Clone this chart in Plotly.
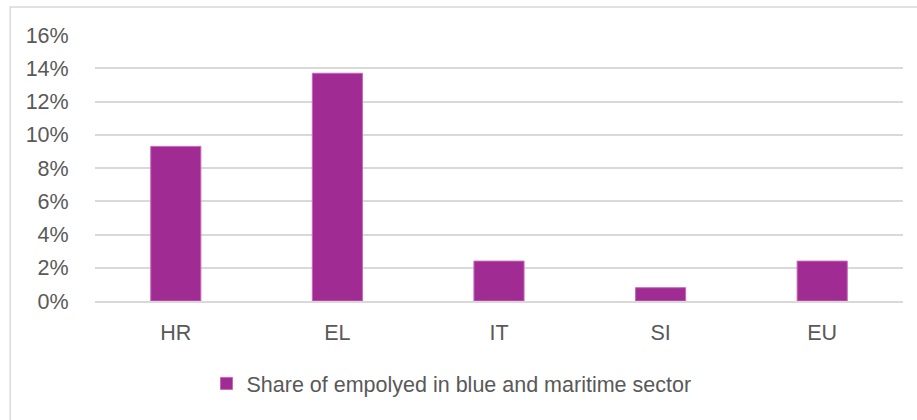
import plotly.graph_objects as go

categories = ["HR", "EL", "IT", "SI", "EU"]
shares = [0.093, 0.137, 0.024, 0.008, 0.024]
y_ticks = [0, 0.02, 0.04, 0.06, 0.08, 0.10, 0.12, 0.14, 0.16]
series_name = "Share of empolyed in blue and maritime sector"

fig = go.Figure()
fig.add_trace(go.Bar(
    x=categories, y=shares, name=series_name,
    marker=dict(color="#A02B93", line=dict(color="#C766BA", width=1)),
))

font_family = "Liberation Sans, Arial, sans-serif"
fs = 21.5
fig.update_layout(
    width=917, height=420,
    margin=dict(l=95, r=14, t=35, b=119),
    paper_bgcolor="white", plot_bgcolor="white",
    bargap=0.69,
    showlegend=True,
    legend=dict(orientation="h", x=0.138, xanchor="left", y=-0.31, yanchor="middle",
                font=dict(size=fs, color="#595959", family=font_family),
                itemwidth=30),
    font=dict(family=font_family, color="#595959", size=fs),
    shapes=[dict(type="rect", xref="paper", yref="paper", x0=-0.105, x1=1.025,
                 y0=-0.6, y1=1.105, line=dict(color="#D9D9D9", width=1.5))],
)
fig.update_yaxes(range=[0, 0.16], tickvals=y_ticks, tickformat=".0%",
                 showgrid=True, gridcolor="#D9D9D9", gridwidth=1.5,
                 zeroline=False, showline=False, ticks="outside", ticklen=21,
                 tickcolor="white",
                 tickfont=dict(size=fs, color="#595959"))
fig.update_xaxes(showline=True, linecolor="#D9D9D9", linewidth=1.5,
                 ticks="outside", ticklen=11, tickcolor="white",
                 tickfont=dict(size=fs, color="#595959"))

fig.write_html("out.html")
